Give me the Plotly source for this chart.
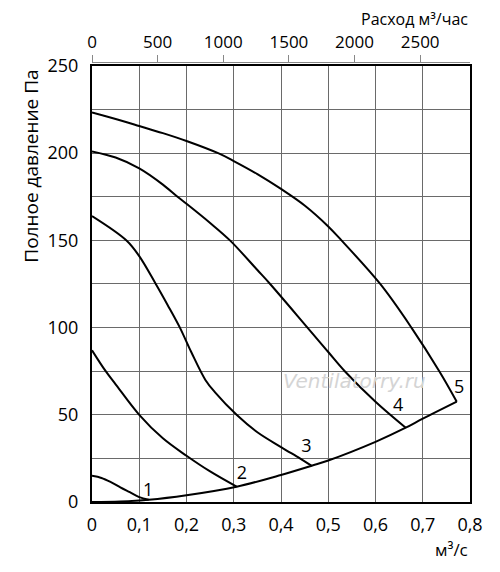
import plotly.graph_objects as go

# Fan curves: flow in m3/s, total pressure in Pa
q1 = [0, 0.02, 0.04, 0.06, 0.08, 0.1, 0.12]
p1 = [15, 13.8, 11.4, 8.4, 5.6, 2.8, 1.3]

q2 = [0, 0.029, 0.05, 0.1, 0.15, 0.2, 0.25, 0.306]
p2 = [87, 75, 67.5, 50, 36.5, 26.5, 17.5, 8.8]

q3 = [0, 0.073, 0.1, 0.135, 0.16, 0.186, 0.21, 0.24, 0.26, 0.306, 0.35, 0.4, 0.44, 0.465]
p3 = [164, 150, 141, 125, 113, 100, 86, 70, 63, 50, 40, 31.5, 25, 20.8]

q4 = [0, 0.05, 0.1, 0.15, 0.181, 0.2, 0.25, 0.292, 0.35, 0.377, 0.456, 0.5, 0.535, 0.6, 0.664]
p4 = [201, 197.5, 191.3, 182, 175, 171, 160, 150, 133, 125, 100, 86, 75, 57.5, 42.6]

q5 = [0, 0.05, 0.1, 0.15, 0.2, 0.267, 0.3, 0.35, 0.4, 0.45, 0.5, 0.528, 0.61, 0.676, 0.735, 0.772]
p5 = [223.3, 219.6, 215.6, 211.5, 207, 200, 195.5, 188, 179.5, 170, 158, 150, 125, 100, 75, 57.5]

# System (network) curve
qs = [0, 0.06, 0.12, 0.2, 0.306, 0.4, 0.465, 0.5, 0.6, 0.664, 0.7, 0.772]
ps = [0, 0.3, 1.3, 3.9, 8.8, 15.5, 20.8, 23.8, 34.5, 42.6, 47.8, 57.6]

# Curve numbers
label_q = [0.119, 0.317, 0.454, 0.648, 0.777]
label_p = [5.9, 15.9, 31.4, 54.6, 65.2]
label_text = ["1", "2", "3", "4", "5"]

x_ticks = [0, 0.1, 0.2, 0.3, 0.4, 0.5, 0.6, 0.7, 0.8]
x_ticktext = ["0", "0,1", "0,2", "0,3", "0,4", "0,5", "0,6", "0,7", "0,8"]
y_ticks = [0, 25, 50, 75, 100, 125, 150, 175, 200, 225, 250]
y_ticktext = ["0", "", "50", "", "100", "", "150", "", "200", "", "250"]
top_ticks = [0, 500, 1000, 1500, 2000, 2500]
top_range = [0, 2880]  # 0.8 m3/s in m3/h

FONT = "Open Sans"
GRID = "#6a6a6a"

fig = go.Figure()

for q, p in [(q1, p1), (q2, p2), (q3, p3), (q4, p4), (q5, p5), (qs, ps)]:
    fig.add_trace(go.Scatter(x=q, y=p, mode="lines", line=dict(color="black", width=2, shape="spline", smoothing=1),
                             hoverinfo="skip", showlegend=False))

fig.add_trace(go.Scatter(x=label_q, y=label_p, mode="text", text=label_text,
                         textfont=dict(family=FONT, size=18, color="black"), showlegend=False))

# Invisible trace on a thin strip above the plot, carrying the m3/h axis
fig.add_trace(go.Scatter(x=top_range, y=[0, 0], xaxis="x2", yaxis="y2", mode="markers", marker=dict(opacity=0),
                         showlegend=False, hoverinfo="skip"))

# The page body has an 8 px margin, so the figure is 8 px smaller than the window
fig.update_layout(
    template="none",
    width=492, height=564,
    margin=dict(l=84, r=30, t=55, b=70),
    paper_bgcolor="white", plot_bgcolor="rgba(0,0,0,0)",
    font=dict(family=FONT, size=18, color="black"),
    xaxis=dict(range=[0, 0.8], tickvals=x_ticks, ticktext=x_ticktext, showgrid=True, gridcolor=GRID, gridwidth=1,
               showline=True, linecolor="black", linewidth=2, mirror=True, zeroline=False, automargin=False,
               ticks="outside", ticklen=5, tickcolor="rgba(0,0,0,0)"),
    yaxis=dict(range=[0, 250], domain=[0, 0.9932], tickvals=y_ticks, ticktext=y_ticktext,
               showgrid=True, gridcolor=GRID, gridwidth=1,
               showline=True, linecolor="black", linewidth=2, mirror=True, zeroline=False, automargin=False,
               ticks="outside", ticklen=8, tickcolor="rgba(0,0,0,0)"),
    xaxis2=dict(range=top_range, anchor="y2", side="top", tickvals=top_ticks, tickfont=dict(size=17),
                showgrid=False, zeroline=False, showline=True, linecolor="#888", linewidth=1, automargin=False,
                ticks="outside", ticklen=7, tickcolor="#888"),
    yaxis2=dict(domain=[0.996, 1], anchor="x2", visible=False, range=[0, 1]),
    annotations=[
        dict(text="Расход м³/час", xref="paper", yref="paper", x=1, y=1.1002, xanchor="right", yanchor="middle",
             showarrow=False, font=dict(family=FONT, size=16)),
        dict(text="м³/с", xref="paper", yref="paper", x=1, y=-0.109, xanchor="right", yanchor="middle",
             showarrow=False, font=dict(family=FONT, size=17)),
        dict(text="Полное давление Па", xref="paper", yref="paper", x=-0.16, y=0.765, textangle=-90,
             xanchor="center", yanchor="middle", showarrow=False, font=dict(family=FONT, size=19)),
        dict(text="Ventilatorry.ru", xref="x", yref="y", x=0.555, y=69.5, showarrow=False,
             font=dict(family="DejaVu Sans", size=20, color="#d4d4d4", style="italic")),
    ],
)

fig.write_html("out.html")
